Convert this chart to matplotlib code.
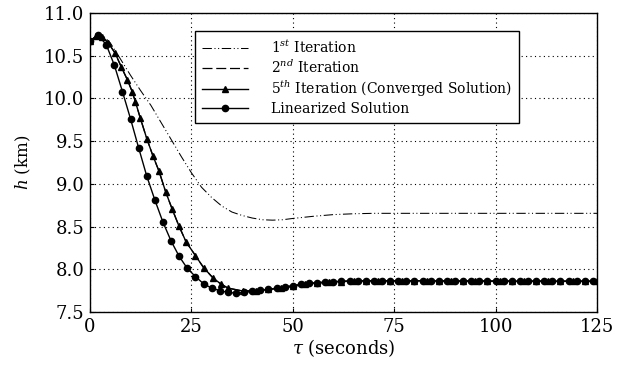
import matplotlib
matplotlib.use("Agg")
import matplotlib.pyplot as plt
import numpy as np

plt.rcParams['font.family'] = ['DejaVu Serif']
plt.rcParams['mathtext.fontset'] = 'dejavuserif'

# ---- data ----
t_iter1 = [0, 2, 3.5, 5, 7, 10, 12.5, 15, 17.5, 20, 22.5, 25, 27.5, 30, 32.5, 35,
           37.5, 40, 42.5, 45, 47.5, 50, 55, 60, 65, 70, 75, 80, 90, 100, 110, 120, 125]
h_iter1 = [10.67, 10.73, 10.72, 10.65, 10.50, 10.27, 10.09, 9.92, 9.72, 9.52, 9.32,
           9.13, 8.96, 8.84, 8.74, 8.67, 8.63, 8.60, 8.58, 8.575, 8.58, 8.595, 8.62,
           8.64, 8.65, 8.655, 8.655, 8.655, 8.655, 8.655, 8.655, 8.655, 8.655]

t_iter2 = [0, 1.5, 3, 4.5, 6.2, 7.7, 9.2, 10.4, 11.2, 12.4, 14, 15.5, 17, 18.7, 20.3,
           21.9, 23.7, 26, 28, 30.3, 32.2, 34, 37.7, 41, 44, 47, 50, 55, 60, 65, 70,
           80, 90, 100, 110, 120, 125]
h_iter2 = [10.67, 10.73, 10.72, 10.65, 10.53, 10.37, 10.22, 10.08, 9.96, 9.77, 9.53,
           9.33, 9.15, 8.90, 8.70, 8.51, 8.32, 8.16, 8.02, 7.90, 7.83, 7.78, 7.745,
           7.75, 7.765, 7.78, 7.80, 7.835, 7.855, 7.862, 7.865, 7.865, 7.865, 7.862,
           7.862, 7.86, 7.86]

t_iter5 = [0, 1.5, 3, 4.5, 6.2, 7.7, 9.2, 10.4, 11.2, 12.4, 14, 15.5, 17, 18.7, 20.3,
           21.9, 23.7, 26, 28, 30.3, 32.2, 34, 37.7, 41, 44, 47, 50, 53, 56, 59, 62,
           65, 68, 71, 74, 77, 80, 83, 86, 89, 92, 95, 98, 101, 104, 107, 110, 113,
           116, 119, 122, 125]
h_iter5 = [10.67, 10.73, 10.72, 10.65, 10.53, 10.37, 10.22, 10.08, 9.96, 9.77, 9.53,
           9.33, 9.15, 8.90, 8.70, 8.51, 8.32, 8.16, 8.02, 7.90, 7.83, 7.78, 7.745,
           7.75, 7.765, 7.78, 7.80, 7.825, 7.84, 7.85, 7.857, 7.862, 7.865, 7.865,
           7.865, 7.865, 7.865, 7.865, 7.862, 7.862, 7.862, 7.862, 7.86, 7.86, 7.86,
           7.86, 7.86, 7.86, 7.86, 7.86, 7.86, 7.86]

t_lin = list(range(0, 126, 2))
h_lin = [10.67, 10.74, 10.63, 10.39, 10.08, 9.76, 9.42, 9.09, 8.81, 8.55, 8.33, 8.15,
         8.01, 7.915, 7.83, 7.78, 7.75, 7.73, 7.72, 7.73, 7.74, 7.755, 7.765, 7.78,
         7.795, 7.81, 7.825, 7.835, 7.845, 7.85, 7.855, 7.86, 7.862, 7.865, 7.866,
         7.867, 7.867, 7.866, 7.866, 7.865, 7.865, 7.865, 7.864, 7.864, 7.863, 7.863,
         7.862, 7.862, 7.862, 7.861, 7.861, 7.861, 7.86, 7.86, 7.86, 7.86, 7.86, 7.86,
         7.86, 7.86, 7.86, 7.86, 7.86]

labels = [r'1$^{st}$ Iteration', r'2$^{nd}$ Iteration',
          r'5$^{th}$ Iteration (Converged Solution)', 'Linearized Solution']
x_ticks = [0, 25, 50, 75, 100, 125]
y_ticks = [7.5, 8.0, 8.5, 9.0, 9.5, 10.0, 10.5, 11.0]

fig = plt.figure(figsize=(6.3, 3.65), dpi=100)
ax = fig.add_axes([90 / 630, 1 - 312 / 365, 507 / 630, 299 / 365])

ax.plot(t_iter1, h_iter1, color='black', lw=0.75, dashes=(9, 2.5, 1, 2.5, 1, 2.5), label=labels[0])
ax.plot(t_iter2, h_iter2, color='black', lw=0.9, dashes=(8, 3), label=labels[1])
ax.plot(t_iter5, h_iter5, color='black', lw=1.0, marker='^', ms=4.5, label=labels[2])
ax.plot(t_lin, h_lin, color='black', lw=1.0, marker='o', ms=4.5, label=labels[3])

ax.set_xlim(0, 125)
ax.set_ylim(7.5, 11.0)
ax.set_xticks(x_ticks)
ax.set_yticks(y_ticks)
ax.set_yticklabels([f'{v:.1f}' for v in y_ticks])
ax.tick_params(direction='in', length=3, labelsize=13, pad=4)
ax.grid(True, color='black', linestyle=(0, (1, 3)), lw=0.8)
for s in ax.spines.values():
    s.set_linewidth(1.0)

ax.set_xlabel(r'$\tau$ (seconds)', fontsize=13, labelpad=1)
ax.set_ylabel(r'$h$ (km)', fontsize=12, labelpad=8)

leg = ax.legend(loc='upper left', bbox_to_anchor=(0.193, 0.962), fontsize=10,
                frameon=True, fancybox=False, edgecolor='black', framealpha=1,
                handlelength=3.3, borderpad=0.5, labelspacing=0.22, handletextpad=1.7)
leg.get_frame().set_linewidth(1.0)

fig.savefig('out.png', dpi=100)
